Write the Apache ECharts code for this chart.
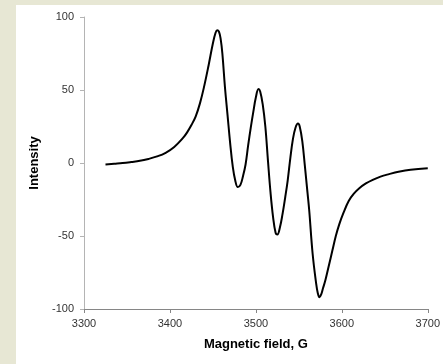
<!DOCTYPE html>
<html>
<head>
<meta charset="utf-8">
<script src="https://cdn.jsdelivr.net/npm/echarts@6/dist/echarts.min.js"></script>
<style>
  html, body { margin: 0; padding: 0; width: 443px; height: 364px; overflow: hidden; background: #e7e7d4; }
  #chart { position: absolute; left: 16px; top: 5px; width: 427px; height: 359px; background: #fff; }
</style>
</head>
<body>
<div id="chart"></div>
<script>
// EPR spectrum
const field = [
  3325, 3335, 3345, 3355, 3365, 3375, 3385, 3395, 3405, 3415,
  3420, 3425, 3430, 3435, 3440, 3445, 3450, 3453, 3455, 3457,
  3459, 3461, 3464, 3467, 3470, 3473, 3476, 3479, 3482, 3485,
  3488, 3491, 3494, 3497, 3500, 3503, 3505, 3508, 3511, 3514,
  3517, 3520, 3523, 3525, 3528, 3531, 3534, 3537, 3540, 3543,
  3546, 3549, 3551, 3554, 3557, 3560, 3562, 3566, 3570, 3572,
  3574, 3576, 3578, 3581, 3585, 3589, 3593, 3597, 3602, 3608,
  3614, 3620, 3628, 3636, 3645, 3655, 3666, 3680, 3700
];
const intensity = [
  -1, -0.5, 0, 0.7, 1.5, 2.8, 4.5, 7, 11, 17,
  21, 26, 32, 41, 53, 67, 82, 89, 91, 90,
  85, 75, 52, 33, 14, -2, -12, -16.5, -15, -9,
  -1, 12, 24, 35, 45, 50.7, 49, 40, 25, 2,
  -20, -37, -48, -49, -44, -35, -24, -12, 3, 16,
  24, 27, 25, 15, -2, -20, -32, -62, -82, -89,
  -92, -90, -86, -80, -70, -60, -50, -42, -34, -26,
  -21, -17.4, -14, -11.5, -9.3, -7.6, -6, -4.6, -3.6
];
const xTicks = { min: 3300, max: 3700, interval: 100 };
const yTicks = { min: -100, max: 100, interval: 50 };

const chart = echarts.init(document.getElementById('chart'));
const labelFont = { color: '#333', fontSize: 11, fontFamily: 'Liberation Sans' };
const nameFont = { color: '#000', fontSize: 13, fontWeight: 'bold', fontFamily: 'Liberation Sans' };

chart.setOption({
  animation: false,
  grid: { left: 68, right: 14, top: 12, bottom: 55 },
  xAxis: {
    type: 'value', min: xTicks.min, max: xTicks.max, interval: xTicks.interval,
    name: 'Magnetic field, G', nameLocation: 'middle', nameGap: 29, nameTextStyle: nameFont,
    axisLine: { onZero: false, lineStyle: { color: '#868686', width: 1 } },
    axisTick: { show: true, length: 4, lineStyle: { color: '#868686' } },
    axisLabel: Object.assign({ margin: 9, formatter: v => String(v) }, labelFont),
    splitLine: { show: false }
  },
  yAxis: {
    type: 'value', min: yTicks.min, max: yTicks.max, interval: yTicks.interval,
    name: 'Intensity', nameLocation: 'middle', nameGap: 39, nameTextStyle: nameFont,
    axisLine: { show: true, lineStyle: { color: '#b4b4b4', width: 1 } },
    axisTick: { show: true, length: 4, lineStyle: { color: '#b4b4b4' } },
    axisLabel: Object.assign({ margin: 10 }, labelFont),
    splitLine: { show: false }
  },
  series: [{
    type: 'line',
    data: field.map((f, i) => [f, intensity[i]]),
    smooth: 0.4,
    showSymbol: false,
    lineStyle: { color: '#000', width: 2 }
  }]
});
</script>
</body>
</html>
